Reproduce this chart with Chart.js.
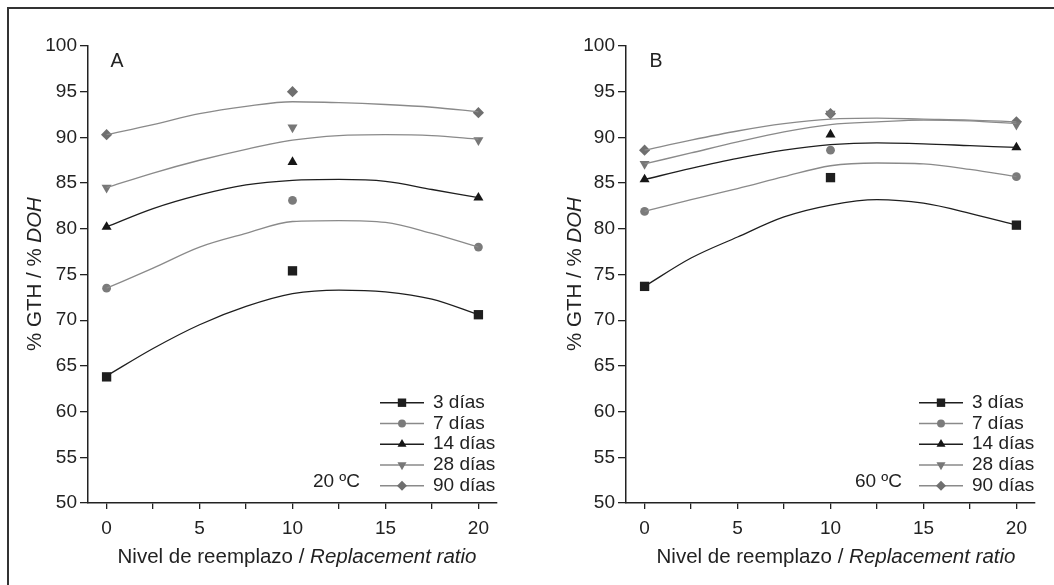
<!DOCTYPE html>
<html>
<head>
<meta charset="utf-8">
<script src="https://cdn.jsdelivr.net/npm/chart.js@4.4.1/dist/chart.umd.min.js"></script>
<style>
  html, body { margin: 0; padding: 0; background: #fff; overflow: hidden; }
  #wrap { position: relative; width: 1054px; height: 585px; overflow: hidden; }
  #frame { position: absolute; left: 7px; top: 7px; width: 1200px; height: 800px; border: 2px solid #333; box-sizing: border-box; }
  canvas { position: absolute; top: 0; }
  #cA { left: 0; }
  #cB { left: 527px; }
</style>
</head>
<body>
<div id="wrap">
  <div id="frame"></div>
  <canvas id="cA" width="527" height="585"></canvas>
  <canvas id="cB" width="527" height="585"></canvas>
</div>
<script>
// data
var seriesLabels = ["3 días", "7 días", "14 días", "28 días", "90 días"];
var xObs = [0, 10, 20];
var xFit = [0, 2.5, 5, 7.5, 10, 12.5, 15, 17.5, 20];

// panel A (20 ºC) measured points, one row per age
var obsA = [
  [63.8, 75.4, 70.6],
  [73.5, 83.1, 78.0],
  [80.2, 87.3, 83.4],
  [84.5, 91.1, 89.7],
  [90.3, 95.0, 92.7]
];
// panel A fitted curves, read at xFit
var fitA = [
  [63.9, 66.9, 69.5, 71.5, 72.9, 73.3, 73.1, 72.3, 70.6],
  [73.5, 75.7, 78.0, 79.5, 80.8, 80.9, 80.7, 79.5, 78.0],
  [80.2, 82.2, 83.7, 84.8, 85.3, 85.4, 85.2, 84.3, 83.4],
  [84.5, 86.1, 87.5, 88.7, 89.7, 90.2, 90.3, 90.2, 89.8],
  [90.3, 91.4, 92.6, 93.4, 93.9, 93.8, 93.6, 93.3, 92.8]
];
// panel B (60 ºC)
var obsB = [
  [73.7, 85.6, 80.4],
  [81.9, 88.6, 85.7],
  [85.4, 90.3, 88.9],
  [87.1, 92.6, 91.4],
  [88.6, 92.6, 91.7]
];
var fitB = [
  [73.7, 76.8, 79.1, 81.3, 82.6, 83.2, 82.8, 81.7, 80.4],
  [81.9, 83.2, 84.4, 85.7, 86.9, 87.2, 87.1, 86.5, 85.7],
  [85.4, 86.6, 87.7, 88.6, 89.2, 89.4, 89.3, 89.1, 88.9],
  [87.1, 88.3, 89.5, 90.6, 91.4, 91.7, 91.9, 91.8, 91.5],
  [88.6, 89.7, 90.7, 91.5, 92.0, 92.1, 92.0, 91.9, 91.7]
];

// styles
var FONT = '"Liberation Sans", Arial, sans-serif';
var ink = "#222";
var markerStyle = ["rect", "circle", "triangle", "triangle", "rectRot"];
var markerRot = [0, 0, 0, 180, 0];
var markerRad = [6.6, 4.4, 5.8, 5.8, 5.6];
var markerCol = ["#1e1e1e", "#7b7b7b", "#161616", "#777777", "#6f6f6f"];
var lineCol = ["#1e1e1e", "#8a8a8a", "#1e1e1e", "#8a8a8a", "#8a8a8a"];

function drawRich(ctx, parts, cx, cy, size) {
  var widths = [], total = 0;
  parts.forEach(function (p) {
    ctx.font = (p[1] ? "italic " : "") + size + "px " + FONT;
    var w = ctx.measureText(p[0]).width;
    widths.push(w);
    total += w;
  });
  var x = cx - total / 2;
  ctx.textAlign = "left";
  ctx.textBaseline = "middle";
  parts.forEach(function (p, i) {
    ctx.font = (p[1] ? "italic " : "") + size + "px " + FONT;
    ctx.fillText(p[0], x, cy);
    x += widths[i];
  });
}

function textPlugin(cfg) {
  return {
    id: "panelText",
    afterDraw: function (chart) {
      var ctx = chart.ctx;
      ctx.save();
      ctx.fillStyle = ink;
      // panel letter
      ctx.font = "19.5px " + FONT;
      ctx.textAlign = "center";
      ctx.textBaseline = "middle";
      ctx.fillText(cfg.letter, cfg.letterX, 62);
      // temperature
      ctx.font = "19px " + FONT;
      ctx.textAlign = "right";
      ctx.fillText(cfg.temp, cfg.tempX, 482);
      // legend
      for (var i = 0; i < seriesLabels.length; i++) {
        var y = 402.7 + i * 20.75;
        ctx.strokeStyle = lineCol[i];
        ctx.lineWidth = 1.4;
        ctx.beginPath();
        ctx.moveTo(cfg.legX, y);
        ctx.lineTo(cfg.legX + 44, y);
        ctx.stroke();
        ctx.fillStyle = markerCol[i];
        Chart.helpers.drawPoint(ctx, { pointStyle: markerStyle[i], rotation: markerRot[i], radius: markerRad[i] * 0.9, borderWidth: 0 }, cfg.legX + 22, y);
        ctx.fillStyle = ink;
        ctx.font = "19px " + FONT;
        ctx.textAlign = "left";
        ctx.textBaseline = "middle";
        ctx.fillText(seriesLabels[i], cfg.legX + 53, y);
      }
      // axis titles
      drawRich(ctx, [["Nivel de reemplazo / ", false], ["Replacement ratio", true]], cfg.xTitleX, 557, 20.5);
      ctx.translate(cfg.yTitleX, 274);
      ctx.rotate(-Math.PI / 2);
      drawRich(ctx, [["% GTH / % ", false], ["DOH", true]], 0, 0, 20.5);
      ctx.restore();
    },
  };
}

function makeChart(id, obs, fit, yAxisW, padRight, cfg) {
  var datasets = [];
  for (var i = 0; i < seriesLabels.length; i++) {
    datasets.push({
      label: seriesLabels[i] + " fit",
      data: xFit.map(function (x, j) { return { x: x, y: fit[i][j] }; }),
      showLine: true,
      borderColor: lineCol[i],
      borderWidth: 1.3,
      pointRadius: 0,
      cubicInterpolationMode: "monotone",
    });
  }
  for (var k = 0; k < seriesLabels.length; k++) {
    datasets.push({
      label: seriesLabels[k],
      data: xObs.map(function (x, j) { return { x: x, y: obs[k][j] }; }),
      showLine: false,
      pointStyle: markerStyle[k],
      rotation: markerRot[k],
      pointRadius: markerRad[k],
      pointBackgroundColor: markerCol[k],
      pointBorderWidth: 0,
    });
  }
  var tickFont = { family: FONT, size: 19 };
  return new Chart(document.getElementById(id), {
    type: "scatter",
    data: { datasets: datasets },
    options: {
      responsive: false,
      animation: false,
      events: [],
      layout: { padding: { top: 46, right: padRight, left: 0, bottom: 0 } },
      plugins: { legend: { display: false }, tooltip: { enabled: false } },
      scales: {
        x: {
          type: "linear",
          min: -1,
          max: 21,
          border: { display: true, color: ink, width: 1.5 },
          grid: { drawOnChartArea: false, drawTicks: true, tickLength: 6, color: ink, lineWidth: 1.3 },
          ticks: {
            stepSize: 2.5,
            includeBounds: false,
            color: ink,
            font: tickFont,
            padding: 8,
            maxRotation: 0,
            callback: function (v) { return v % 5 === 0 ? String(v) : ""; },
          },
          afterFit: function (s) { s.height = 82; },
        },
        y: {
          min: 50,
          max: 100,
          border: { display: true, color: ink, width: 1.5 },
          grid: { drawOnChartArea: false, drawTicks: true, tickLength: 8, color: ink, lineWidth: 1.3 },
          ticks: {
            stepSize: 2.5,
            color: ink,
            font: tickFont,
            padding: 3,
            callback: function (v) { return v % 5 === 0 ? String(v) : ""; },
          },
          afterFit: function (s) { s.width = yAxisW; },
        },
      },
    },
    plugins: [textPlugin(cfg)],
  });
}

window.addEventListener("load", function () {
  makeChart("cA", obsA, fitA, 88, 30, { letter: "A", letterX: 117, temp: "20 ºC", tempX: 360, legX: 380, xTitleX: 297, yTitleX: 35 });
  makeChart("cB", obsB, fitB, 99, 19, { letter: "B", letterX: 129, temp: "60 ºC", tempX: 375, legX: 392, xTitleX: 309, yTitleX: 48 });
});
</script>
</body>
</html>
